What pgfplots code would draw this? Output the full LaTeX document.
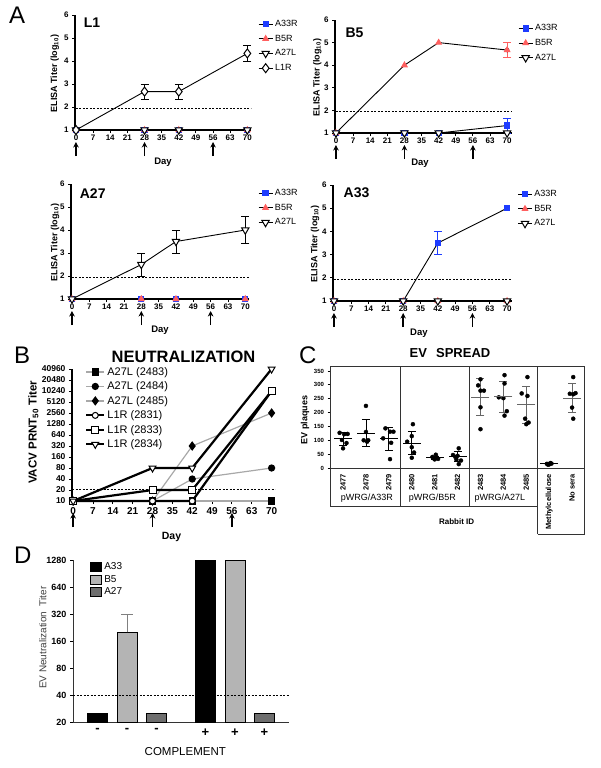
\documentclass[border=0pt]{standalone}
\usepackage{fontspec}
\setmainfont{Liberation Sans}
\usepackage{pgfplots}
\pgfplotsset{compat=1.18}
\usetikzlibrary{arrows.meta}
\definecolor{myblue}{HTML}{1E3CFF}
\definecolor{myred}{HTML}{FF5F5F}
\definecolor{lgray}{HTML}{B4B4B4}
\definecolor{dgray}{HTML}{6E6E6E}
\definecolor{lgline}{HTML}{A8A8A8}
\newcommand{\fs}[1]{\fontsize{#1}{#1}\selectfont}
\newcommand{\arr}[2]{\draw[line width=1.6pt,-{Stealth[length=5.5pt,width=5.5pt]}] ([yshift=-26pt]axis cs:#1,#2) -- ([yshift=-12pt]axis cs:#1,#2);}

\pgfplotsset{
  apanel/.style={
    scale only axis, clip=false, anchor=south west,
    axis x line*=bottom, axis y line*=left,
    axis line style={line width=1.2pt},
    xmin=-0.4, xmax=71.5, ymin=1, ymax=6,
    xtick={0,7,...,70}, ytick={1,2,...,6},
    tick align=outside, major tick length=3pt,
    every tick/.style={line width=0.9pt, black},
    ticklabel style={font=\fs{8}\bfseries},
    xticklabel style={inner sep=1.5pt},
    /pgf/number format/assume math mode=true,
    legend cell align=left,
    legend style={draw=none, fill=none, font=\fs{9}, anchor=north west, row sep=3pt, inner sep=0pt},
    legend image code/.code={\draw[mark repeat=2,mark phase=2,##1] plot coordinates {(0pt,0pt)(7pt,0pt)(14pt,0pt)};},
    ylabel={ELISA Titer (log\textsubscript{10})},
    ylabel style={font=\fs{9}\bfseries, anchor=center},
    xlabel={Day},
    xlabel style={font=\fs{9.5}\bfseries, anchor=center},
  },
  sA/.style={black, line width=0.9pt, mark=square*, mark size=2.6pt, mark options={fill=myblue, draw=myblue, solid}},
  sB/.style={black, line width=0.9pt, mark=triangle*, mark size=3.2pt, mark options={fill=myred, draw=myred, solid}},
  sC/.style={black, line width=0.9pt, mark=triangle*, mark size=4.2pt, mark options={fill=white, draw=black, rotate=180, line width=1pt, solid}},
  sD/.style={black, line width=0.9pt, mark=diamond*, mark size=4.5pt, mark options={fill=white, draw=black, line width=1pt, solid}},
  eb/.style={forget plot, only marks, mark=none, error bars/.cd, y dir=both, y explicit, error bar style={line width=0.9pt, draw=#1, solid}, error mark options={rotate=90, mark size=4pt, line width=0.9pt, draw=#1, solid}},
  dline/.style={forget plot, black, line width=0.6pt, dash pattern=on 2pt off 1.5pt, mark=none},
}

\begin{document}
\begin{tikzpicture}
\useasboundingbox (0,0) rectangle (600pt,-768pt);

% ---------- Panel A: L1 ----------
\begin{axis}[apanel, at={(75pt,-130pt)}, width=176pt, height=115pt,
  ylabel style={at={(axis description cs:-0.114,0.49)}},
  xlabel style={at={(axis description cs:0.5,-0.28)}},
  legend style={at={(axis description cs:1.04,0.975)}}]
\addplot[sA] coordinates {(0,1)(28,1)(42,1)(70,1)};
\addplot[sB] coordinates {(0,1)(28,1)(42,1)(70,1)};
\addplot[sC] coordinates {(0,1)(28,1)(42,1)(70,1)};
\addplot[eb=black] coordinates {(28,2.67) +- (0,0.33) (42,2.67) +- (0,0.33) (70,4.33) +- (0,0.33)};
\addplot[sD] coordinates {(0,1)(28,2.67)(42,2.67)(70,4.33)};
\addplot[dline] coordinates {(0,1.95)(71.5,1.95)};
\legend{A33R,B5R,A27L,L1R}
\node[anchor=west, font=\fs{14}\bfseries] at (axis description cs:0.03,0.93) {L1};
\arr{0}{1}\arr{28}{1}\arr{56}{1}
\end{axis}

% ---------- Panel A: B5 ----------
\begin{axis}[apanel, at={(335pt,-133pt)}, width=177pt, height=113pt, xmax=72,
  ylabel style={at={(axis description cs:-0.10,0.49)}},
  xlabel style={at={(axis description cs:0.48,-0.265)}},
  legend style={at={(axis description cs:1.034,0.98)}}]
\addplot[eb=myblue] coordinates {(70,1.33) +- (0,0.33)};
\addplot[sA] coordinates {(0,1)(28,1)(42,1)(70,1.33)};
\addplot[eb=myred] coordinates {(70,4.67) +- (0,0.33)};
\addplot[sB] coordinates {(0,1)(28,4)(42,5)(70,4.67)};
\addplot[sC] coordinates {(0,1)(28,1)(42,1)(70,1)};
\addplot[dline] coordinates {(0,1.95)(72,1.95)};
\legend{A33R,B5R,A27L}
\node[anchor=west, font=\fs{14}\bfseries] at (axis description cs:0.04,0.885) {B5};
\arr{0}{1}\arr{28}{1}\arr{56}{1}
\end{axis}

% ---------- Panel A: A27 ----------
\begin{axis}[apanel, at={(71pt,-299pt)}, width=178pt, height=115pt,
  ylabel style={at={(axis description cs:-0.09,0.49)}},
  xlabel style={at={(axis description cs:0.5,-0.27)}},
  legend style={at={(axis description cs:1.05,0.974)}}]
\addplot[sA] coordinates {(0,1)(28,1)(42,1)(70,1)};
\addplot[sB] coordinates {(0,1)(28,1)(42,1)(70,1)};
\addplot[eb=black] coordinates {(28,2.5) +- (0,0.5) (42,3.5) +- (0,0.5) (70,4.0) +- (0,0.58)};
\addplot[sC] coordinates {(0,1)(28,2.5)(42,3.5)(70,4.0)};
\addplot[dline] coordinates {(0,1.95)(71.5,1.95)};
\legend{A33R,B5R,A27L}
\node[anchor=west, font=\fs{14}\bfseries] at (axis description cs:0.03,0.92) {A27};
\arr{0}{1}\arr{28}{1}\arr{56}{1}
\end{axis}

% ---------- Panel A: A33 ----------
\begin{axis}[apanel, at={(333pt,-301pt)}, width=179pt, height=116pt, xmax=72,
  ylabel style={at={(axis description cs:-0.10,0.49)}},
  xlabel style={at={(axis description cs:0.48,-0.276)}},
  legend style={at={(axis description cs:1.03,0.974)}}]
\addplot[eb=myblue] coordinates {(42,3.5) +- (0,0.5)};
\addplot[sA] coordinates {(0,1)(28,1)(42,3.5)(70,5)};
\addplot[sB] coordinates {(0,1)(28,1)(42,1)(70,1)};
\addplot[sC] coordinates {(0,1)(28,1)(42,1)(70,1)};
\addplot[dline] coordinates {(0,1.95)(72,1.95)};
\legend{A33R,B5R,A27L}
\node[anchor=west, font=\fs{14}\bfseries] at (axis description cs:0.04,0.93) {A33};
\arr{0}{1}\arr{28}{1}\arr{56}{1}
\end{axis}

% ---------- Panel B ----------
\begin{axis}[scale only axis, clip=false, anchor=south west, at={(72pt,-501pt)}, width=203pt, height=132pt,
  axis x line*=bottom, axis y line*=left, axis line style={line width=1.2pt},
  xmin=-0.4, xmax=71.2, ymode=log, log basis y=2, ymin=10, ymax=40960,
  xtick={0,7,...,70},
  ytick={10,20,40,80,160,320,640,1280,2560,5120,10240,20480,40960},
  yticklabels={10,20,40,80,160,320,640,1280,2560,5120,10240,20480,40960},
  tick align=outside, major tick length=3pt, every tick/.style={line width=0.9pt, black},
  xticklabel style={font=\fs{10}\bfseries},
  yticklabel style={font=\fs{8.5}\bfseries},
  /pgf/number format/assume math mode=true,
  ylabel={VACV PRNT\textsubscript{50} Titer}, ylabel style={font=\fs{11.5}\bfseries, at={(axis description cs:-0.19,0.52)}, anchor=center},
  xlabel={Day}, xlabel style={font=\fs{10.5}\bfseries, at={(axis description cs:0.49,-0.273)}, anchor=center},
  legend cell align=left,
  legend style={draw=none, fill=none, font=\fs{11}, at={(axis description cs:0.064,1.03)}, anchor=north west, row sep=1pt, inner sep=0pt},
  legend image code/.code={\draw[mark repeat=2,mark phase=2,#1] plot coordinates {(0pt,0pt)(9pt,0pt)(18pt,0pt)};},
]
\addplot[lgline, line width=1.2pt, mark=square*, mark size=3pt, mark options={black, solid}] coordinates {(0,10)(28,10)(42,10)(70,10)};
\addplot[lgline, line width=1.2pt, mark=*, mark size=3pt, mark options={black, solid}] coordinates {(0,10)(28,10)(42,40)(70,80)};
\addplot[lgline, line width=1.2pt, mark=diamond*, mark size=3.8pt, mark options={black, solid}] coordinates {(0,10)(28,10)(42,320)(70,2560)};
\addplot[black, line width=2.2pt, mark=*, mark size=3pt, mark options={fill=white, draw=black, line width=1pt, solid}] coordinates {(0,10)(28,10)(42,10)(70,10240)};
\addplot[black, line width=2.2pt, mark=square*, mark size=3.5pt, mark options={fill=white, draw=black, line width=1pt, solid}] coordinates {(0,10)(28,20)(42,20)(70,10240)};
\addplot[black, line width=2.2pt, mark=triangle*, mark size=4pt, mark options={fill=white, draw=black, rotate=180, line width=1pt, solid}] coordinates {(0,10)(28,80)(42,80)(70,40960)};
\addplot[dline] coordinates {(-0.4,20.5)(71.2,20.5)};
\legend{A27L (2483),A27L (2484),A27L (2485),L1R (2831),L1R (2833),L1R (2834)}
\arr{0}{10}\arr{28}{10}\arr{56}{10}
\end{axis}

% ---------- Panel C ----------
\begin{axis}[scale only axis, clip=false, anchor=south west, at={(330pt,-468pt)}, width=254pt, height=102pt,
  xmin=-0.57, xmax=10.52, ymin=0, ymax=368,
  axis line style={line width=0.9pt, black!80},
  tick pos=left, tick align=outside, major tick length=2.5pt,
  ytick={0,50,...,350},
  xtick={0,...,10}, xticklabels={2477,2478,2479,2480,2481,2482,2483,2484,2485,Methylcellulose,No sera},
  xtick style={draw=none}, ytick style={line width=0.8pt, black},
  xticklabel style={rotate=90, anchor=east, font=\fs{7.5}\bfseries},
  yticklabel style={font=\fs{6}\bfseries},
  /pgf/number format/assume math mode=true,
  ylabel={EV plaques}, ylabel style={font=\fs{9}\bfseries, at={(axis description cs:-0.098,0.47)}, anchor=center},
]
\addplot[only marks, mark=*, mark size=2pt, black] coordinates {
 (-0.15,127)(0.05,122)(0.2,123)(-0.05,101)(0.15,90)(0.0,71)
 (1.0,224)(1.0,130)(0.9,100)(1.1,100)(1.05,95)
 (1.85,143)(2.05,131)(2.2,131)(1.75,107)(2.1,91)(2.05,32)
 (3.05,158)(3.0,115)(2.8,95)(3.0,75)(3.1,56)(3.0,37)
 (4.05,48)(3.9,40)(4.1,38)(3.95,35)(4.15,33)(4.0,31)
 (5.05,71)(4.8,47)(5.0,44)(4.95,30)(5.15,27)(5.05,14)(4.9,40)
 (6.0,320)(5.9,298)(6.15,279)(6.0,279)(6.0,219)(6.0,140)
 (7.05,335)(7.05,305)(6.8,255)(7.0,252)(7.15,205)(7.05,189)
 (8.05,328)(7.8,269)(8.05,260)(7.95,178)(8.1,164)(8.0,158)
 (8.9,15)(9.0,13)(9.1,16)(8.95,12)(9.05,18)
 (10.05,328)(9.9,268)(10.05,266)(10.15,270)(10.0,218)(10.05,178)
};
\addplot[only marks, mark=-, mark size=9pt, mark options={line width=1pt}, black,
  error bars/.cd, y dir=both, y explicit, error bar style={line width=0.9pt, black},
  error mark options={rotate=90, mark size=4pt, line width=0.9pt, black}]
  coordinates {(0,105) +- (0,22) (1,126) +- (0,49) (2,105) +- (0,41) (3,90) +- (0,42) (4,37) +- (0,5) (5,42) +- (0,18) (9,15) +- (0,2)};
\addplot[only marks, mark=-, mark size=9pt, mark options={line width=1pt}, black!60,
  error bars/.cd, y dir=both, y explicit, error bar style={line width=0.9pt, black!60},
  error mark options={rotate=90, mark size=4pt, line width=0.9pt, black!60}]
  coordinates {(6,256) +- (0,66) (7,257) +- (0,57) (8,228) +- (0,68) (10,252) +- (0,52)};
\draw[line width=0.9pt, black!80] (axis cs:2.5,368) -- (axis cs:2.5,-137);
\draw[line width=0.9pt, black!80] (axis cs:5.5,368) -- (axis cs:5.5,-137);
\draw[line width=0.9pt, black!80] (axis cs:8.5,368) -- (axis cs:8.5,-238);
\draw[line width=0.9pt, black!80] (axis cs:-0.57,0) -- (axis cs:-0.57,-137) -- (axis cs:8.5,-137);
\draw[line width=0.9pt, black!80] (axis cs:8.5,-238) -- (axis cs:10.52,-238) -- (axis cs:10.52,0);
\node[font=\fs{9}] at (axis cs:1.04,-108) {pWRG/A33R};
\node[font=\fs{9}] at (axis cs:3.9,-108) {pWRG/B5R};
\node[font=\fs{9}] at (axis cs:6.85,-108) {pWRG/A27L};
\node[font=\fs{8}\bfseries] at (axis cs:4.96,-195) {Rabbit ID};
\end{axis}

% ---------- Panel D ----------
\begin{axis}[scale only axis, clip=false, anchor=south west, at={(73pt,-722pt)}, width=216pt, height=162pt,
  axis x line*=bottom, axis y line*=left, axis line style={line width=1pt, black!80},
  xmin=0.17, xmax=7.49, ymode=log, log basis y=2, ymin=20, ymax=1280, log origin=infty,
  ytick={20,40,80,160,320,640,1280}, yticklabels={20,40,80,160,320,640,1280},
  xtick={1,2,3,4.66,5.66,6.66}, xticklabels={-,-,-,+,+,+},
  tick align=outside, major tick length=3pt,
  xtick style={draw=none}, ytick style={line width=0.8pt, black},
  xticklabel style={font=\fs{13}\bfseries},
  yticklabel style={font=\fs{9}\bfseries},
  /pgf/number format/assume math mode=true,
  ylabel={EV Neutralization\ \ Titer}, ylabel style={font=\fs{10}, text=black!75, at={(axis description cs:-0.14,0.52)}, anchor=center},
  xlabel={COMPLEMENT}, xlabel style={font=\fs{11.5}, at={(axis description cs:0.52,-0.185)}, anchor=center},
  ybar, bar width=20pt, bar shift=0pt,
  legend cell align=left,
  legend style={draw=none, fill=none, font=\fs{10}, at={(axis description cs:0.08,0.995)}, anchor=north west, row sep=0pt, inner sep=0pt},
  legend image code/.code={\draw[#1] (0pt,-4.5pt) rectangle (11pt,4.5pt);},
]
\addplot[fill=black, draw=black, line width=0.8pt] coordinates {(1,25.2)(4.66,1280)};
\addplot[fill=lgray, draw=black, line width=0.8pt, error bars/.cd, y dir=plus, y explicit, error bar style={line width=0.8pt, draw=gray}, error mark options={rotate=90, mark size=6pt, draw=gray, line width=0.8pt}] coordinates {(2,200) +- (0,120)};
\addplot[fill=dgray, draw=black, line width=0.8pt] coordinates {(3,25.2)(6.66,25.2)};
\addplot[forget plot, fill=lgray, draw=black, line width=0.8pt] coordinates {(5.66,1280)};
\addplot[dline, sharp plot] coordinates {(0.17,40)(7.49,40)};
\legend{A33,B5,A27}
\end{axis}

% ---------- panel letters and titles ----------
\node[font=\fs{24}, anchor=base west, inner sep=0pt] at (9pt,-24pt) {A};
\node[font=\fs{24}, anchor=base west, inner sep=0pt] at (14pt,-363pt) {B};
\node[font=\fs{24}, anchor=base west, inner sep=0pt] at (299pt,-363pt) {C};
\node[font=\fs{24}, anchor=base west, inner sep=0pt] at (14pt,-563pt) {D};
\node[font=\fs{16.5}\bfseries, anchor=base, inner sep=0pt] at (183.5pt,-362pt) {NEUTRALIZATION};
\node[font=\fs{13}\bfseries, anchor=base, inner sep=0pt] at (450pt,-357pt) {EV\hspace{0.7em}SPREAD};
\end{tikzpicture}
\end{document}
